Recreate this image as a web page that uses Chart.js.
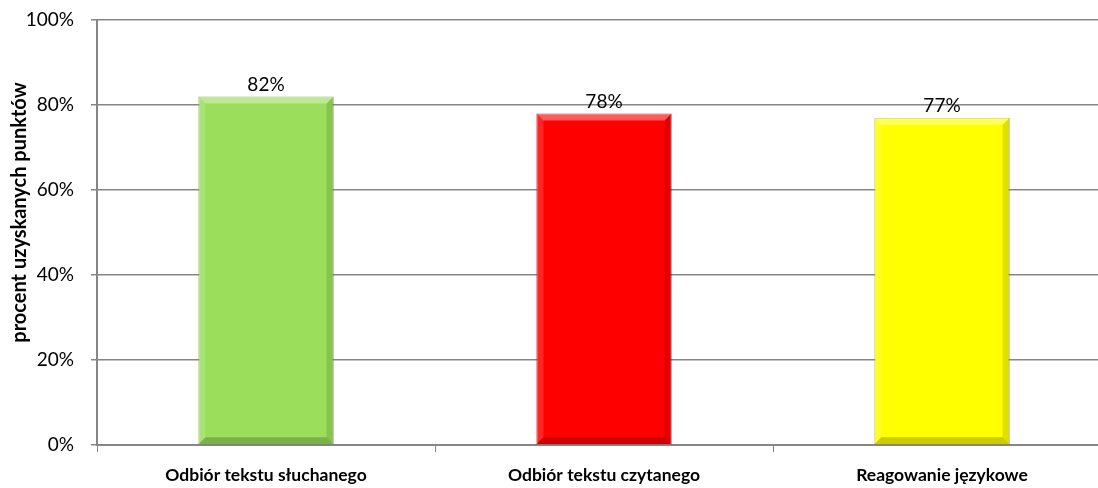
<!DOCTYPE html>
<html>
<head>
<meta charset="utf-8">
<script src="https://cdn.jsdelivr.net/npm/chart.js@4/dist/chart.umd.min.js"></script>
<style>
html, body { margin: 0; padding: 0; background: #fff; overflow: hidden; }
#wrap { width: 1098px; height: 488px; overflow: hidden; }
#wrap div { width: 1112px; height: 488px; }
</style>
</head>
<body>
<div id="wrap"><div><canvas id="chart"></canvas></div></div>
<script>
const categories = ['Odbiór tekstu słuchanego', 'Odbiór tekstu czytanego', 'Reagowanie językowe'];
const percentPoints = [82, 78, 77];
const barColors = ['#9BDE5B', '#FF0000', '#FFFF00'];
const barBorders = ['#76A846', '#B80000', '#B5B500'];
const yTicks = [0, 20, 40, 60, 80, 100];
const yTitle = 'procent uzyskanych punktów';

const FONT = 'Lato, "Open Sans", sans-serif';

// soft bevel on the bars, like the office chart
const bevel = {
    id: 'bevel',
    afterDatasetsDraw(chart) {
        const c = chart.ctx;
        const meta = chart.getDatasetMeta(0);
        const b = 7;
        c.save();
        meta.data.forEach((bar) => {
            const l = bar.x - bar.width / 2, r = bar.x + bar.width / 2;
            const t = bar.y, btm = bar.base;
            c.fillStyle = 'rgba(255,255,255,0.35)';
            c.beginPath();
            c.moveTo(l, t); c.lineTo(r, t); c.lineTo(r - b, t + b); c.lineTo(l + b, t + b);
            c.closePath(); c.fill();
            c.fillStyle = 'rgba(255,255,255,0.15)';
            c.beginPath();
            c.moveTo(l, t); c.lineTo(l + b, t + b); c.lineTo(l + b, btm - b); c.lineTo(l, btm);
            c.closePath(); c.fill();
            c.fillStyle = 'rgba(0,0,0,0.12)';
            c.beginPath();
            c.moveTo(r, t); c.lineTo(r, btm); c.lineTo(r - b, btm - b); c.lineTo(r - b, t + b);
            c.closePath(); c.fill();
            c.fillStyle = 'rgba(0,0,0,0.2)';
            c.beginPath();
            c.moveTo(l, btm); c.lineTo(r, btm); c.lineTo(r - b, btm - b); c.lineTo(l + b, btm - b);
            c.closePath(); c.fill();
        });
        c.restore();
    }
};

const valueLabels = {
    id: 'valueLabels',
    afterDatasetsDraw(chart) {
        const c = chart.ctx;
        const meta = chart.getDatasetMeta(0);
        c.save();
        c.font = '19px ' + FONT;
        c.fillStyle = '#000';
        c.textAlign = 'center';
        c.textBaseline = 'alphabetic';
        meta.data.forEach((bar, i) => {
            c.fillText(percentPoints[i] + '%', bar.x, bar.y - 6);
        });
        c.restore();
    }
};

// axis title sits a bit above the middle in the original, so draw it by hand
const axisTitle = {
    id: 'axisTitle',
    afterDraw(chart) {
        const c = chart.ctx;
        const area = chart.chartArea;
        c.save();
        c.translate(20, (area.top + area.bottom) / 2 - 20);
        c.rotate(-Math.PI / 2);
        c.font = 'bold 20px ' + FONT;
        c.fillStyle = '#000';
        c.textAlign = 'center';
        c.textBaseline = 'middle';
        c.fillText(yTitle, 0, 0);
        c.restore();
    }
};

const ctx = document.getElementById('chart').getContext('2d');
const chart = new Chart(ctx, {
    type: 'bar',
    data: {
        labels: categories,
        datasets: [{
            data: percentPoints,
            backgroundColor: barColors,
            borderColor: barBorders,
            borderWidth: 1,
            categoryPercentage: 0.4,
            barPercentage: 1
        }]
    },
    options: {
        responsive: true,
        maintainAspectRatio: false,
        animation: false,
        layout: { padding: { top: 20, right: 1, left: 0, bottom: 0 } },
        plugins: {
            legend: { display: false },
            tooltip: { enabled: false }
        },
        scales: {
            x: {
                offset: true,
                grid: {
                    offset: true,
                    drawOnChartArea: false,
                    drawTicks: true,
                    tickLength: 7,
                    color: '#868686'
                },
                border: { color: '#868686', width: 2 },
                ticks: {
                    color: '#000',
                    padding: 13,
                    maxRotation: 0,
                    font: { family: FONT, size: 17.5, weight: 'bold' }
                },
                afterFit: (scale) => { scale.height = 43; }
            },
            y: {
                min: 0,
                max: 100,
                afterBuildTicks: (scale) => { scale.ticks = yTicks.map(v => ({ value: v })); },
                grid: {
                    color: '#868686',
                    lineWidth: 1.5,
                    tickLength: 6
                },
                border: { color: '#868686', width: 2 },
                ticks: {
                    color: '#000',
                    padding: 17,
                    callback: (v) => v + '%',
                    font: { family: FONT, size: 19 }
                },
                afterFit: (scale) => {
                    scale.width = 97;
                    scale.paddingTop = 0;
                    scale.paddingBottom = 0;
                }
            }
        }
    },
    plugins: [bevel, valueLabels, axisTitle]
});
</script>
</body>
</html>
